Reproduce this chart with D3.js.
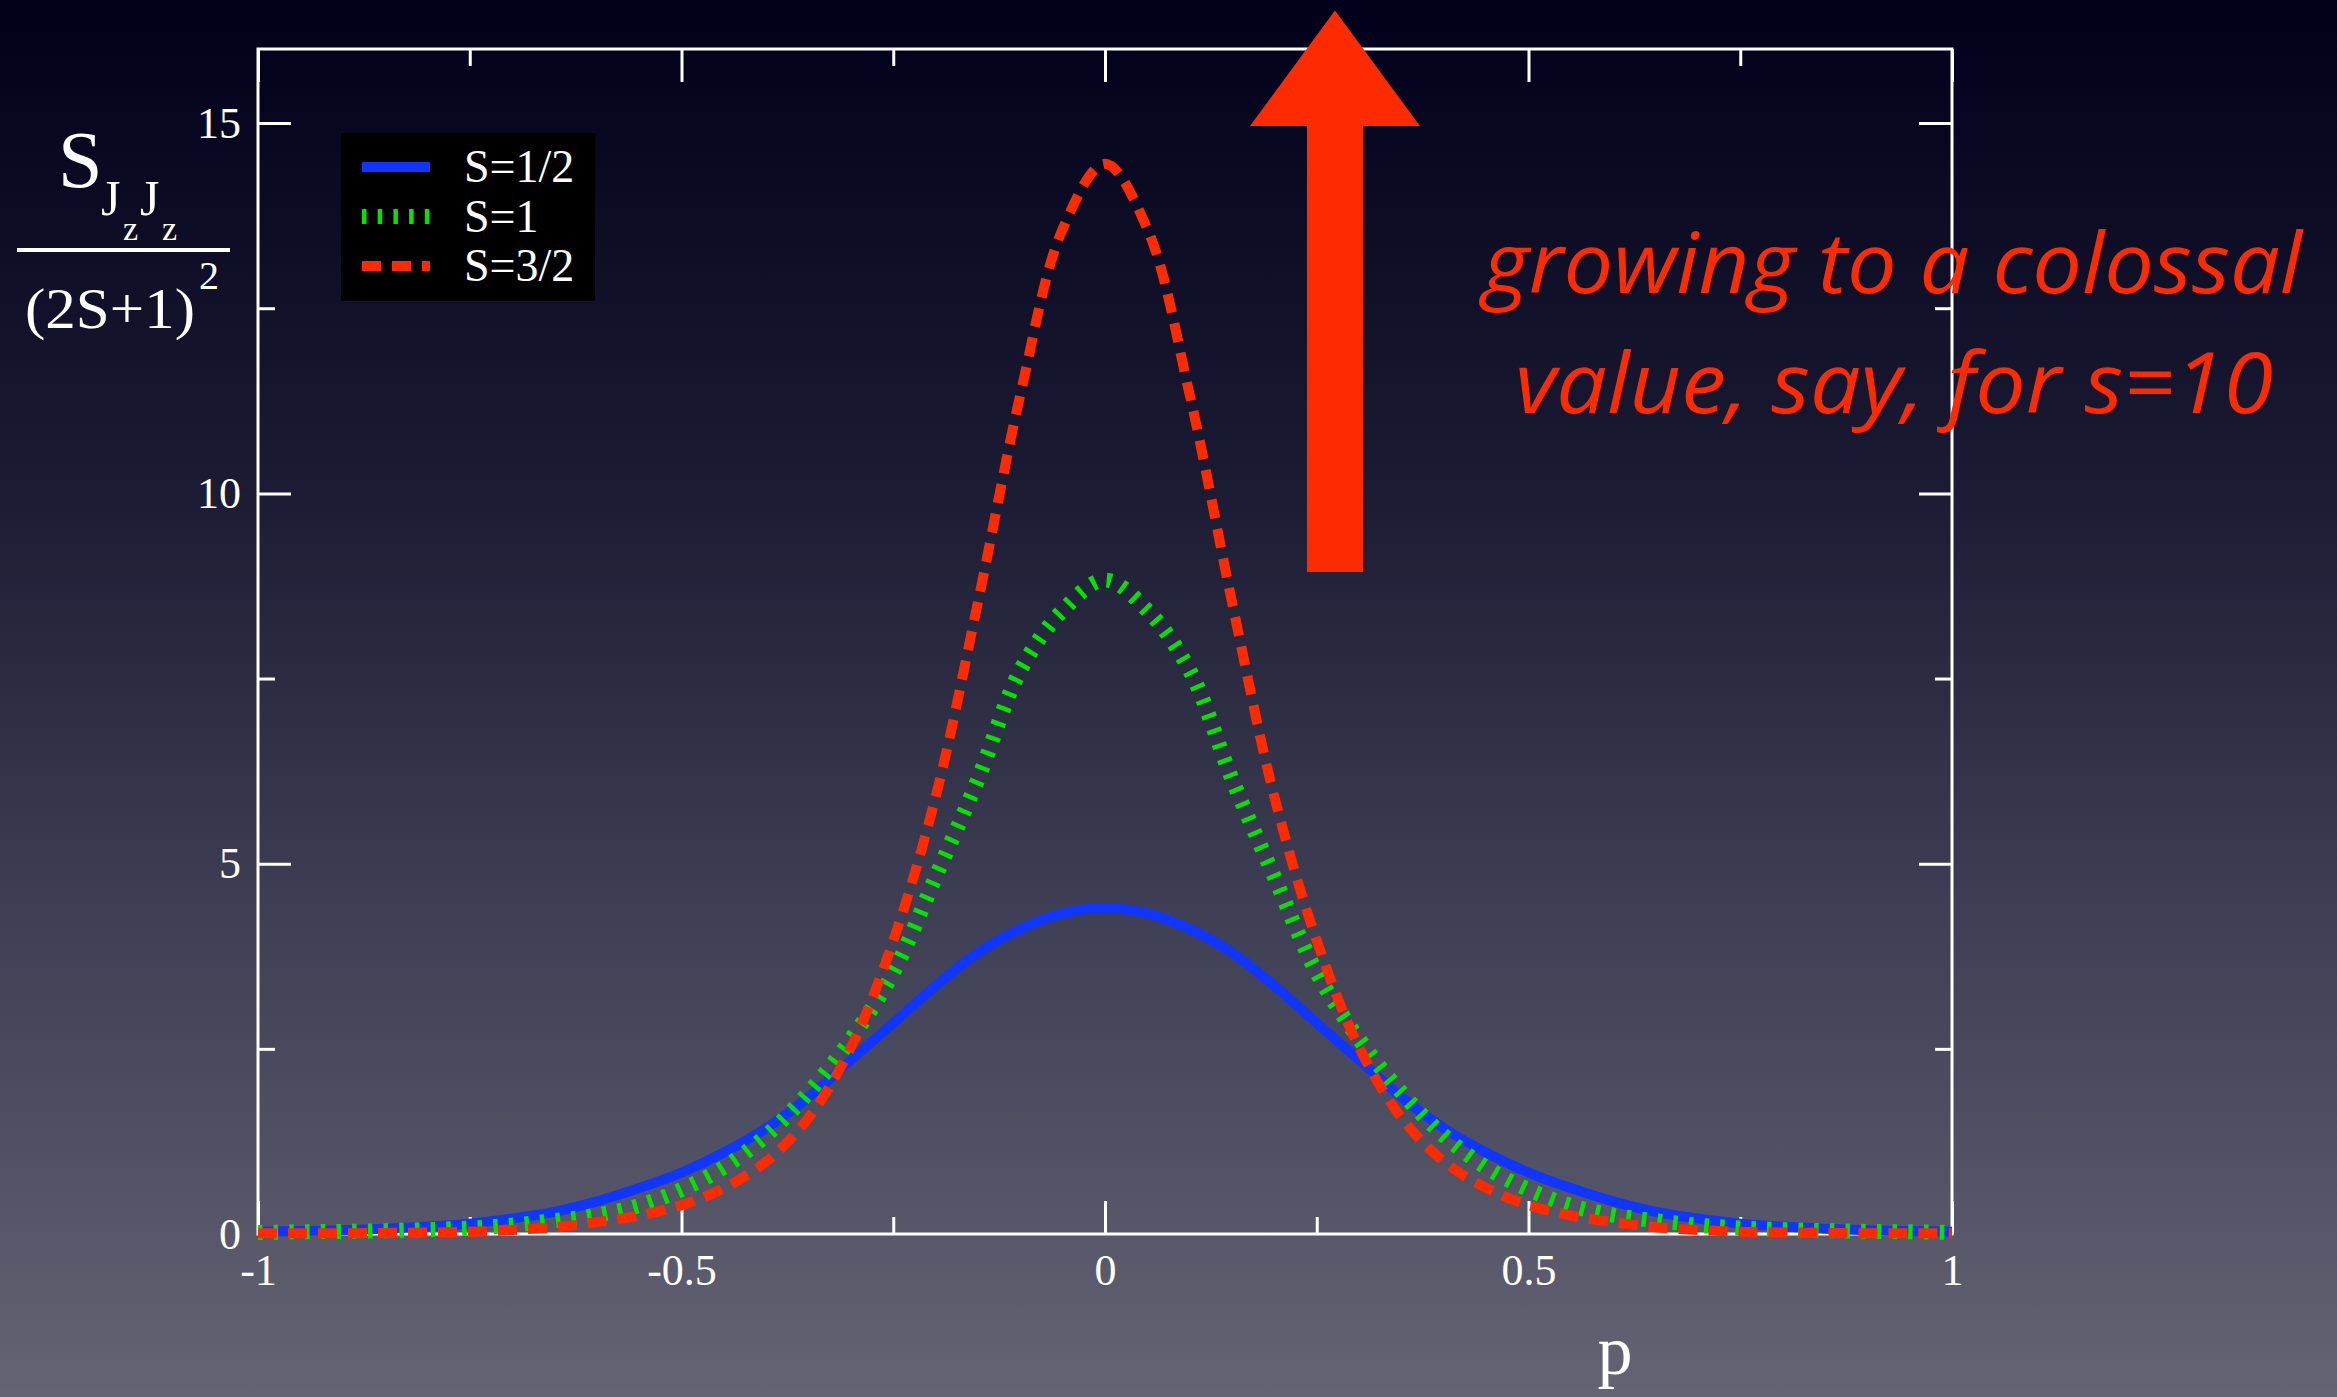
<!DOCTYPE html>
<html>
<head>
<meta charset="utf-8">
<script src="https://cdnjs.cloudflare.com/ajax/libs/d3/7.8.5/d3.min.js"></script>
<style>
  body { margin: 0; background: #000; }
  svg { display: block; }
</style>
</head>
<body>
<div class="chart-container"></div>
<script>
var w = 2337;
var h = 1397;

// p grid and the three curves
var pValues = [-1, -0.95, -0.9, -0.85, -0.8, -0.75, -0.7, -0.65, -0.6, -0.55, -0.5,
  -0.45, -0.4, -0.35, -0.3, -0.25, -0.2, -0.15, -0.1, -0.05, 0,
  0.05, 0.1, 0.15, 0.2, 0.25, 0.3, 0.35, 0.4, 0.45, 0.5,
  0.55, 0.6, 0.65, 0.7, 0.75, 0.8, 0.85, 0.9, 0.95, 1];

var sHalf = [0.03, 0.04, 0.05, 0.07, 0.10, 0.14, 0.21, 0.30, 0.44, 0.62, 0.83,
  1.10, 1.43, 1.85, 2.35, 2.85, 3.35, 3.80, 4.12, 4.33, 4.40,
  4.33, 4.12, 3.80, 3.35, 2.85, 2.35, 1.85, 1.43, 1.10, 0.83,
  0.62, 0.44, 0.30, 0.21, 0.14, 0.10, 0.07, 0.05, 0.04, 0.03];

var sOne = [0.02, 0.03, 0.035, 0.045, 0.06, 0.08, 0.12, 0.18, 0.255, 0.385, 0.60,
  0.90, 1.33, 1.91, 2.63, 3.53, 4.82, 6.14, 7.61, 8.42, 8.83,
  8.42, 7.61, 6.14, 4.82, 3.53, 2.63, 1.91, 1.33, 0.90, 0.60,
  0.385, 0.255, 0.18, 0.12, 0.08, 0.06, 0.045, 0.035, 0.03, 0.02];

var sThreeHalf = [0.01, 0.01, 0.01, 0.015, 0.02, 0.03, 0.055, 0.09, 0.16, 0.25, 0.39,
  0.62, 0.98, 1.57, 2.52, 3.96, 5.90, 8.53, 11.33, 13.57, 14.45,
  13.57, 11.33, 8.53, 5.90, 3.96, 2.52, 1.57, 0.98, 0.62, 0.39,
  0.25, 0.16, 0.09, 0.055, 0.03, 0.02, 0.015, 0.01, 0.01, 0.01];

var legendLabels = ["S=1/2", "S=1", "S=3/2"];

var xMajor = [-1, -0.5, 0, 0.5, 1];
var xMinor = [-0.75, -0.25, 0.25, 0.75];
var yMajor = [0, 5, 10, 15];
var yMinor = [2.5, 7.5, 12.5];

var serif = "'Liberation Serif', 'Times New Roman', serif";

var svg = d3.select(".chart-container")
    .append("svg")
    .attr("width", w)
    .attr("height", h);

// keynote style background
var grad = svg.append("defs").append("linearGradient")
    .attr("id", "bg")
    .attr("x1", 0).attr("y1", 0).attr("x2", 0).attr("y2", 1);
grad.append("stop").attr("offset", "0%").attr("stop-color", "#00001a");
grad.append("stop").attr("offset", "35%").attr("stop-color", "#1b1b33");
grad.append("stop").attr("offset", "65%").attr("stop-color", "#3e3e54");
grad.append("stop").attr("offset", "100%").attr("stop-color", "#646474");

svg.append("rect")
    .attr("width", w)
    .attr("height", h)
    .attr("fill", "url(#bg)");

var x = d3.scaleLinear().domain([-1, 1]).range([258, 1952]);
var y = d3.scaleLinear().domain([0, 16]).range([1234, 49]);

// frame
svg.append("rect")
    .attr("x", x(-1))
    .attr("y", y(16))
    .attr("width", x(1) - x(-1))
    .attr("height", y(0) - y(16))
    .attr("fill", "none")
    .attr("stroke", "white")
    .attr("stroke-width", 3);

function styleAxis(g) {
    g.select(".domain").remove();
    g.selectAll("line").attr("stroke", "white").attr("stroke-width", 3);
    g.attr("font-family", serif).attr("font-size", 44);
    g.selectAll("text").attr("fill", "white");
}

var fmt = function (d) { return String(d); };

svg.append("g").attr("transform", "translate(0," + y(0) + ")")
    .call(d3.axisBottom(x).tickValues(xMajor).tickSize(-33).tickPadding(20).tickFormat(fmt))
    .call(styleAxis);
svg.append("g").attr("transform", "translate(0," + y(0) + ")")
    .call(d3.axisBottom(x).tickValues(xMinor).tickSize(-17).tickFormat(""))
    .call(styleAxis);
svg.append("g").attr("transform", "translate(0," + y(16) + ")")
    .call(d3.axisTop(x).tickValues(xMajor).tickSize(-33).tickFormat(""))
    .call(styleAxis);
svg.append("g").attr("transform", "translate(0," + y(16) + ")")
    .call(d3.axisTop(x).tickValues(xMinor).tickSize(-17).tickFormat(""))
    .call(styleAxis);

svg.append("g").attr("transform", "translate(" + x(-1) + ",0)")
    .call(d3.axisLeft(y).tickValues(yMajor).tickSize(-33).tickPadding(17).tickFormat(fmt))
    .call(styleAxis);
svg.append("g").attr("transform", "translate(" + x(-1) + ",0)")
    .call(d3.axisLeft(y).tickValues(yMinor).tickSize(-17).tickFormat(""))
    .call(styleAxis);
svg.append("g").attr("transform", "translate(" + x(1) + ",0)")
    .call(d3.axisRight(y).tickValues(yMajor).tickSize(-33).tickFormat(""))
    .call(styleAxis);
svg.append("g").attr("transform", "translate(" + x(1) + ",0)")
    .call(d3.axisRight(y).tickValues(yMinor).tickSize(-17).tickFormat(""))
    .call(styleAxis);

// curves
var series = [
    { name: legendLabels[0], values: sHalf, color: "#1035ff", width: 10, dash: null },
    { name: legendLabels[1], values: sOne, color: "#00e400", width: 15, dash: "4.5,11.2" },
    { name: legendLabels[2], values: sThreeHalf, color: "#ff2b00", width: 10, dash: "19,11" }
];

var line = d3.line()
    .x(function (d, i) { return x(pValues[i]); })
    .y(function (d) { return y(d); })
    .curve(d3.curveCatmullRom.alpha(0.5));

svg.selectAll(".curve")
    .data(series)
    .enter()
    .append("path")
    .attr("class", "curve")
    .attr("d", function (d) { return line(d.values); })
    .attr("fill", "none")
    .attr("stroke", function (d) { return d.color; })
    .attr("stroke-width", function (d) { return d.width; })
    .attr("stroke-dasharray", function (d) { return d.dash; })
    .attr("stroke-linecap", "butt");

// legend
var legend = svg.append("g");
legend.append("rect")
    .attr("x", 341).attr("y", 133)
    .attr("width", 254).attr("height", 168)
    .attr("fill", "black");

var rows = legend.selectAll(".row")
    .data(series)
    .enter()
    .append("g")
    .attr("transform", function (d, i) { return "translate(0," + (167 + i * 49.5) + ")"; });
rows.append("line")
    .attr("x1", 362).attr("x2", 430)
    .attr("stroke", function (d) { return d.color; })
    .attr("stroke-width", function (d) { return d.width; })
    .attr("stroke-dasharray", function (d) { return d.dash; });
rows.append("text")
    .attr("x", 464).attr("y", 15)
    .attr("font-family", serif).attr("font-size", 46)
    .attr("fill", "white")
    .text(function (d) { return d.name; });

// axis labels
svg.append("text")
    .attr("x", 1615).attr("y", 1374)
    .attr("text-anchor", "middle")
    .attr("font-family", serif).attr("font-size", 70)
    .attr("fill", "white")
    .text("p");

var ylab = svg.append("g").attr("font-family", serif).attr("fill", "white");
ylab.append("text").attr("x", 58).attr("y", 187).attr("font-size", 80).text("S");
ylab.append("text").attr("x", 101).attr("y", 215).attr("font-size", 50).text("J");
ylab.append("text").attr("x", 123).attr("y", 240).attr("font-size", 34).text("z");
ylab.append("text").attr("x", 140).attr("y", 215).attr("font-size", 50).text("J");
ylab.append("text").attr("x", 162).attr("y", 240).attr("font-size", 34).text("z");
ylab.append("line")
    .attr("x1", 17).attr("x2", 230).attr("y1", 250).attr("y2", 250)
    .attr("stroke", "white").attr("stroke-width", 4);
ylab.append("text").attr("x", 25).attr("y", 328).attr("font-size", 58)
    .attr("textLength", 170).attr("lengthAdjust", "spacingAndGlyphs")
    .text("(2S+1)");
ylab.append("text").attr("x", 199).attr("y", 289).attr("font-size", 40).text("2");

// the big arrow
var ap = 0.2715;
var arrow = d3.path();
arrow.moveTo(x(ap) - 28, y(8.94));
arrow.lineTo(x(ap) - 28, y(14.96));
arrow.lineTo(x(ap) - 85, y(14.96));
arrow.lineTo(x(ap), y(16.52));
arrow.lineTo(x(ap) + 85, y(14.96));
arrow.lineTo(x(ap) + 28, y(14.96));
arrow.lineTo(x(ap) + 28, y(8.94));
arrow.closePath();
svg.append("path")
    .attr("d", arrow.toString())
    .attr("fill", "#ff2b00");

var note = svg.append("g")
    .attr("font-family", "'Open Sans', sans-serif")
    .attr("font-style", "italic")
    .attr("font-size", 84)
    .attr("fill", "#ff2b00");
note.append("text").attr("x", 1483).attr("y", 293)
    .attr("textLength", 819).attr("lengthAdjust", "spacingAndGlyphs")
    .text("growing to a colossal");
note.append("text").attr("x", 1515).attr("y", 413)
    .attr("textLength", 758).attr("lengthAdjust", "spacingAndGlyphs")
    .text("value, say, for s=10");
</script>
</body>
</html>
